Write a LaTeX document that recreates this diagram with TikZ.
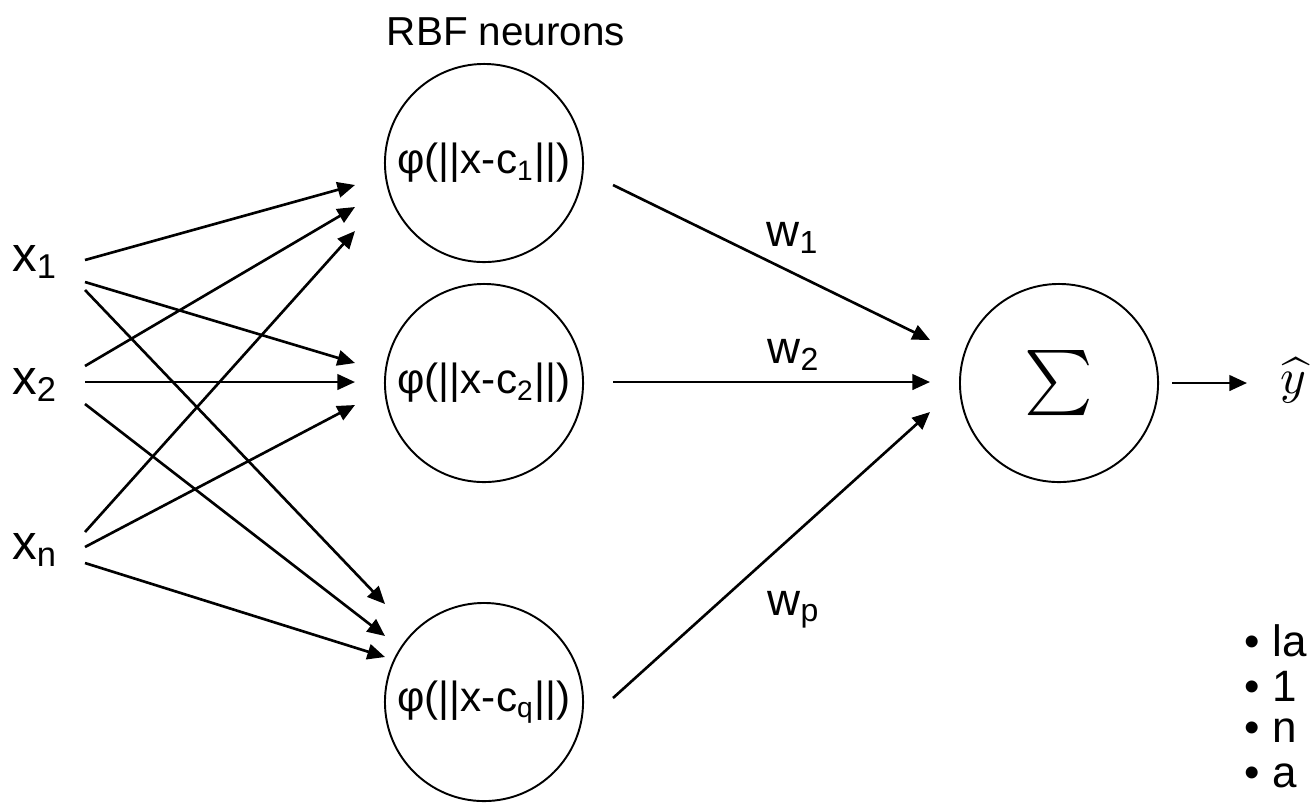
\documentclass[tikz,border=0pt]{standalone}
\usepackage{fontspec}
\setmainfont{Liberation Sans}
\usetikzlibrary{arrows.meta}
\begin{document}
\begin{tikzpicture}[x=0.01cm,y=-0.01cm,
  neuron/.style={draw,circle,minimum size=1.98cm,inner sep=0pt,line width=0.55pt},
  conn/.style={line width=0.75pt,-{Triangle[length=5pt,width=4.4pt]}},
  inlab/.style={font=\fontsize{14}{16}\selectfont,inner sep=0pt},
  wlab/.style={font=\fontsize{13}{15}\selectfont,inner sep=0pt},
  ftxt/.style={font=\fontsize{12}{14}\selectfont},
  bul/.style={font=\fontsize{12.5}{14}\selectfont,anchor=west,inner sep=0pt}
]
\useasboundingbox (0,0) rectangle (1310,802);

% inputs
\node[inlab] (x1) at (35,262) {x\textsubscript{1}};
\node[inlab] (x2) at (35,385) {x\textsubscript{2}};
\node[inlab] (xn) at (35,550) {x\textsubscript{n}};

% title
\node[font=\fontsize{11.5}{13}\selectfont] (title) at (506,32) {RBF neurons};

% RBF neurons
\node[neuron,ftxt] (c1) at (484,163) {φ(||x-c\textsubscript{1}||)};
\node[neuron,ftxt] (c2) at (484,383) {φ(||x-c\textsubscript{2}||)};
\node[neuron,ftxt] (cq) at (484,702) {φ(||x-c\textsubscript{q}||)};

% sum
\node[neuron] (sum) at (1059,383) {\scalebox{1.85}{$\sum$}};
\node[inner sep=0pt] (yhat) at (1293,380) {\scalebox{1.4}{$\widehat{y}$}};

% weight labels
\node[wlab] (w1) at (793,238) {w\textsubscript{1}};
\node[wlab] (w2) at (794,355) {w\textsubscript{2}};
\node[wlab] (wp) at (794,610) {w\textsubscript{p}};

% connector end points
\coordinate (s1a) at (85,260);
\coordinate (s1b) at (85,282);
\coordinate (s1c) at (85,290);
\coordinate (s2a) at (85,366);
\coordinate (s2b) at (85,382);
\coordinate (s2c) at (85,404);
\coordinate (sna) at (85,532);
\coordinate (snb) at (85,547);
\coordinate (snc) at (85,563);
\coordinate (e1a) at (355,185);
\coordinate (e1b) at (355,207);
\coordinate (e1c) at (355,231);
\coordinate (e2a) at (355,363);
\coordinate (e2b) at (355,382);
\coordinate (e2c) at (355,405);
\coordinate (eqa) at (385,604);
\coordinate (eqb) at (385,636);
\coordinate (eqc) at (385,657);
\coordinate (o1s) at (613,185);
\coordinate (o2s) at (613,382);
\coordinate (oqs) at (613,698);
\coordinate (o1e) at (930,340);
\coordinate (o2e) at (930,382);
\coordinate (oqe) at (930,412);
\coordinate (ys) at (1172,383);
\coordinate (ye) at (1247,383);

\draw[conn] (s1a) -- (e1a);
\draw[conn] (s1b) -- (e2a);
\draw[conn] (s1c) -- (eqa);
\draw[conn] (s2a) -- (e1b);
\draw[conn] (s2b) -- (e2b);
\draw[conn] (s2c) -- (eqb);
\draw[conn] (sna) -- (e1c);
\draw[conn] (snb) -- (e2c);
\draw[conn] (snc) -- (eqc);
\draw[conn] (o1s) -- (o1e);
\draw[conn] (o2s) -- (o2e);
\draw[conn] (oqs) -- (oqe);
\draw[conn] (ys) -- (ye);

% cut-off list
\node[bul] (b1) at (1244,641) {• la};
\node[bul] (b2) at (1244,686) {• 1};
\node[bul] (b3) at (1244,731) {• n};
\node[bul] (b4) at (1244,776) {• a};
\end{tikzpicture}
\end{document}
